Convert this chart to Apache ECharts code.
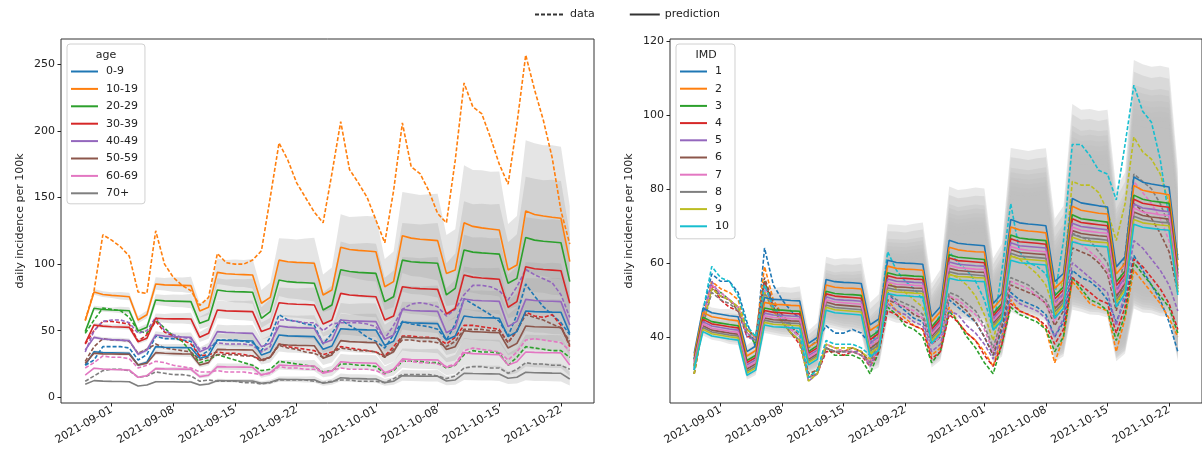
<!DOCTYPE html>
<html><head><meta charset="utf-8">
<script src="https://cdn.jsdelivr.net/npm/echarts@6/dist/echarts.min.js"></script>
<style>html,body{margin:0;padding:0;background:#fff}#c{width:1202px;height:464px}</style>
</head><body><div id="c"></div>
<script>
// day index 0 = 2021-08-29
const xTickDays = [3, 10, 17, 24, 33, 40, 47, 54];
const xTickLabels = ['2021-09-01','2021-09-08','2021-09-15','2021-09-22','2021-10-01','2021-10-08','2021-10-15','2021-10-22'];
const leftYTicks = [0, 50, 100, 150, 200, 250];
const rightYTicks = [40, 60, 80, 100, 120];
const ageGroups = ['0-9','10-19','20-29','30-39','40-49','50-59','60-69','70+'];
const imdGroups = ['1','2','3','4','5','6','7','8','9','10'];
const palette = ['#1f77b4','#ff7f0e','#2ca02c','#d62728','#9467bd','#8c564b','#e377c2','#7f7f7f','#bcbd22','#17becf'];

// relative width of the prediction intervals (upper / lower factor per day)
const bandUpperFactor = [1.02, 1.03,1.03,1.03,1.04,1.04,1.05,1.05, 1.06,1.06,1.07,1.07,1.08,1.09,1.10, 1.11,1.11,1.12,1.12,1.13,1.14,1.15, 1.16,1.17,1.17,1.18,1.19,1.20,1.21, 1.22,1.22,1.23,1.24,1.24,1.25,1.26, 1.27,1.28,1.28,1.29,1.30,1.31,1.32, 1.33,1.33,1.34,1.34,1.35,1.36,1.37, 1.38,1.39,1.39,1.40,1.40,1.41];
const bandLowerFactor = [0.983, 0.975,0.975,0.975,0.966,0.966,0.958,0.958, 0.949,0.949,0.94,0.94,0.932,0.924,0.915, 0.907,0.907,0.898,0.898,0.89,0.881,0.873, 0.864,0.856,0.856,0.847,0.839,0.83,0.822, 0.813,0.813,0.805,0.796,0.796,0.788,0.779, 0.77,0.762,0.762,0.754,0.745,0.737,0.728, 0.72,0.72,0.711,0.711,0.703,0.694,0.686, 0.677,0.669,0.669,0.66,0.66,0.652];

// ---- left panel: age, predictions ----
const predAge09 = [24.2, 34.2,33.6,33.4,33.2,33.0,24.2,26.3, 38.0,37.6,37.4,37.3,37.2,29.3,31.2, 43.0,42.6,42.5,42.4,42.3,31.8,34.2, 46.8,46.1,45.9,45.7,45.5,36.0,38.5, 51.5,51.0,50.8,50.6,50.5,39.0,42.0, 56.5,55.9,55.7,55.5,55.3,43.0,46.0, 61.0,60.1,59.8,59.6,59.3,45.5,49.3, 64.8,64.3,64.1,63.9,63.8,48.0];
const predAge1019 = [57.5, 79.0,77.2,76.5,76.0,75.5,58.0,62.0, 85.0,84.4,84.2,84.0,83.8,64.8,67.6, 93.8,92.8,92.4,92.1,91.8,70.6,75.0, 103.0,101.8,101.3,101.0,100.6,76.8,80.5, 112.6,111.0,110.3,109.8,109.3,83.0,86.8, 121.3,119.5,118.7,118.2,117.6,93.0,95.6, 131.0,128.3,127.2,126.4,125.6,95.6,99.3, 139.9,137.2,136.1,135.2,134.4,101.8];
const predAge2029 = [49.3, 66.8,65.9,65.5,65.3,65.0,49.8,52.5, 73.0,72.4,72.2,72.0,71.8,55.5,58.0, 80.5,79.6,79.3,79.1,78.8,59.3,64.3, 88.0,86.8,86.3,86.0,85.6,65.5,69.3, 95.8,94.4,93.8,93.4,93.0,71.8,75.5, 103.0,101.8,101.3,101.0,100.6,76.8,81.8, 110.6,109.0,108.4,108.0,107.5,85.6,89.3, 120.0,118.0,117.2,116.6,116.0,86.8];
const predAge3039 = [40.5, 54.3,53.4,53.0,52.8,52.5,41.7,44.3, 59.3,59.0,58.9,58.9,58.8,45.0,48.0, 65.5,64.9,64.7,64.5,64.3,49.3,51.8, 71.0,70.2,69.8,69.6,69.3,55.0,58.0, 78.0,76.8,76.3,75.9,75.5,58.0,61.0, 83.0,82.0,81.6,81.3,81.0,62.5,66.8, 91.8,90.2,89.6,89.1,88.6,67.6,71.8, 98.0,96.5,95.9,95.5,95.0,70.6];
const predAge4049 = [35.5, 45.0,43.8,43.3,42.9,42.5,32.3,35.5, 46.8,45.9,45.5,45.3,45.0,34.2,37.2, 49.3,48.7,48.4,48.2,48.0,38.0,40.5, 53.5,52.7,52.3,52.1,51.8,40.5,43.0, 58.0,57.4,57.2,57.0,56.8,43.5,46.8, 66.0,65.2,64.9,64.7,64.5,48.5,52.0, 73.8,72.9,72.5,72.3,72.0,53.0,57.0, 73.5,72.7,72.3,72.1,71.8,54.3];
const predAge5059 = [25.5, 33.0,32.6,32.5,32.4,32.3,24.2,25.5, 33.5,33.0,32.8,32.6,32.5,24.2,26.0, 36.0,35.8,35.7,35.6,35.5,28.0,30.0, 39.8,39.2,39.0,38.9,38.7,29.3,31.8, 42.5,41.8,41.5,41.2,41.0,30.5,34.2, 45.5,44.9,44.7,44.5,44.3,35.8,38.0, 50.0,49.3,49.0,48.7,48.5,37.0,40.5, 53.5,53.0,52.8,52.6,52.5,39.3];
const predAge6069 = [16.7, 21.8,21.2,20.9,20.7,20.5,15.0,16.2, 21.5,21.3,21.2,21.1,21.0,15.5,16.5, 23.0,22.8,22.7,22.6,22.5,16.7,18.5, 24.2,23.9,23.7,23.6,23.5,18.0,19.5, 26.7,26.1,25.9,25.7,25.5,18.5,21.0, 28.8,28.4,28.2,28.1,28.0,22.5,24.2, 33.5,32.8,32.5,32.2,32.0,24.2,26.7, 34.0,33.7,33.5,33.4,33.3,24.2];
const predAge70 = [9.7, 12.5,12.1,11.9,11.8,11.7,8.5,9.2, 11.7,11.6,11.6,11.5,11.5,9.2,10.0, 12.5,12.4,12.3,12.2,12.2,10.5,11.2, 13.5,13.4,13.3,13.2,13.2,10.5,11.5, 14.7,14.2,14.0,13.8,13.7,11.0,12.0, 16.2,16.0,15.9,15.8,15.8,12.2,13.0, 18.0,17.8,17.7,17.6,17.5,14.3,15.0, 18.8,18.4,18.3,18.1,18.0,13.7];

// ---- left panel: age, observed data ----
const dataAge09 = [24,28,38,38,38,37,28, 32,46,44,44,43,42,31, 35,43,43,43,42,41,35, 45,62,58,57,55,54,40, 48,58,54,50,45,42,37, 47,57,55,54,53,51,43, 55,74,70,66,62,57,46, 62,85,76,68,62,56,47];
const dataAge1019 = [58,80,122,118,113,106,79, 78,125,100,90,84,80,69, 75,108,101,100,100,103,110, 150,191,178,161,150,139,131, 168,207,171,161,150,133,116, 155,206,173,168,155,138,131, 178,236,218,213,195,175,160, 205,257,231,208,180,140,115];
const dataAge2029 = [48,58,67,66,65,60,50, 48,58,52,46,42,34,26, 28,32,30,28,26,24,20, 21,27,26,25,24,23,19, 20,25,25,24,24,23,18, 20,27,27,27,26,26,22, 24,32,35,34,34,33,24, 30,38,37,36,35,35,30];
const dataAge3039 = [40,50,57,57,56,55,42, 47,57,49,46,43,40,31, 32,34,33,33,32,31,28, 30,40,38,37,36,35,32, 34,38,37,36,35,34,31, 38,46,46,45,45,44,40, 45,54,54,53,52,51,41, 50,64,61,60,62,54,38];
const dataAge4049 = [34,50,57,58,58,56,48, 50,60,50,47,45,44,36, 38,41,40,40,40,39,34, 38,58,58,57,56,56,50, 55,56,56,56,55,53,44, 54,66,70,71,70,68,61, 66,77,84,84,83,80,73, 83,96,92,89,86,77,60];
const dataAge5059 = [27,38,44,43,43,42,33, 36,40,37,36,35,34,28, 30,32,32,32,31,31,27, 30,39,37,36,34,33,30, 33,37,36,35,35,34,30, 36,43,43,42,42,41,38, 42,51,51,51,50,50,41, 50,62,60,58,55,52,42];
const dataAge6069 = [22,26,31,30,30,29,22, 24,27,26,24,23,22,19, 19,20,19,19,19,18,17, 18,23,22,22,21,21,19, 20,22,21,21,21,20,17, 21,27,27,26,26,25,23, 25,35,37,36,35,34,28, 34,43,44,43,42,41,35];
const dataAge70 = [12,16,20,21,21,20,15, 16,19,18,17,17,16,12, 13,12,12,12,11,11,10, 11,13,13,13,13,12,11, 12,13,13,12,12,12,11, 14,17,17,17,17,16,14, 16,22,23,23,22,22,18, 21,26,25,25,24,24,21];

// ---- right panel: IMD, predictions ----
const predImd1 = [35.5, 47.7,46.5,46.1,45.7,45.4,36.0,37.5, 50.6,50.1,50.0,49.8,49.7,38.2,39.8, 55.5,54.9,54.7,54.6,54.4,43.2,44.8, 60.7,60.1,59.9,59.8,59.6,45.4,48.1, 66.1,65.3,65.0,64.8,64.6,49.0,51.7, 71.7,70.8,70.5,70.3,70.0,54.9,57.1, 77.4,76.2,75.8,75.4,75.1,58.9,61.6, 83.2,81.8,81.3,80.9,80.5,60.7];
const predImd2 = [34.8, 46.6,45.4,45.0,44.6,44.3,34.8,36.3, 49.3,48.8,48.7,48.5,48.4,37.2,38.7, 54.0,53.4,53.2,53.1,52.9,41.7,43.3, 59.1,58.5,58.3,58.2,58.0,44.1,46.8, 64.2,63.5,63.2,63.0,62.9,47.7,50.4, 69.7,68.9,68.6,68.4,68.1,53.1,55.4, 75.3,74.2,73.8,73.4,73.2,57.0,59.8, 80.9,79.6,79.1,78.8,78.4,59.0];
const predImd3 = [34.0, 45.3,44.1,43.7,43.3,43.0,33.6,35.0, 47.8,47.3,47.2,47.0,46.9,36.0,37.6, 52.3,51.7,51.5,51.4,51.2,39.9,41.6, 57.3,56.7,56.6,56.4,56.3,42.7,45.4, 62.2,61.5,61.3,61.1,60.9,46.3,49.0, 67.5,66.7,66.4,66.2,66.0,51.1,53.5, 73.0,71.9,71.6,71.3,71.0,54.8,57.8, 78.3,77.2,76.7,76.4,76.1,57.1];
const predImd4 = [33.6, 44.7,43.5,43.1,42.7,42.4,33.0,34.4, 47.1,46.6,46.5,46.3,46.2,35.5,37.0, 51.6,51.0,50.8,50.6,50.4,39.2,40.9, 56.5,55.9,55.8,55.6,55.5,42.0,44.7, 61.3,60.6,60.4,60.2,60.0,45.6,48.3, 66.5,65.7,65.5,65.3,65.0,50.2,52.7, 71.9,70.9,70.6,70.3,70.0,53.8,56.9, 77.2,76.1,75.7,75.3,75.0,56.3];
const predImd5 = [33.2, 44.1,42.9,42.5,42.1,41.8,32.4,33.8, 46.4,45.9,45.8,45.6,45.5,34.9,36.4, 50.8,50.1,49.9,49.8,49.6,38.3,40.0, 55.6,55.0,54.9,54.7,54.6,41.3,44.0, 60.2,59.6,59.4,59.2,59.1,44.9,47.6, 65.4,64.6,64.4,64.2,64.0,49.3,51.7, 70.7,69.8,69.5,69.2,68.9,52.7,56.0, 75.9,74.8,74.5,74.1,73.8,55.3];
const predImd6 = [32.5, 43.0,41.8,41.4,41.0,40.7,31.3,32.7, 45.1,44.6,44.5,44.3,44.2,33.9,35.4, 49.4,48.7,48.5,48.3,48.1,36.8,38.6, 54.0,53.5,53.4,53.2,53.1,40.1,42.8, 58.5,57.9,57.7,57.5,57.4,43.7,46.4, 63.6,62.8,62.6,62.4,62.2,47.6,50.1, 68.7,67.9,67.6,67.3,67.1,50.9,54.3, 73.7,72.8,72.4,72.1,71.8,53.7];
const predImd7 = [32.9, 43.5,42.3,41.9,41.5,41.2,31.8,33.2, 45.7,45.2,45.1,44.9,44.8,34.4,35.9, 50.0,49.4,49.2,49.0,48.8,37.5,39.3, 54.8,54.2,54.1,53.9,53.8,40.6,43.3, 59.3,58.7,58.5,58.3,58.2,44.2,46.9, 64.4,63.7,63.4,63.2,63.0,48.4,50.9, 69.7,68.8,68.5,68.2,68.0,51.8,55.1, 74.8,73.7,73.4,73.0,72.8,54.5];
const predImd8 = [32.2, 42.5,41.3,40.9,40.5,40.2,30.7,32.1, 44.5,44.0,43.9,43.7,43.6,33.4,34.9, 48.6,47.9,47.7,47.5,47.3,36.1,37.8, 53.2,52.7,52.6,52.4,52.3,39.4,42.1, 57.6,57.0,56.9,56.7,56.5,43.0,45.7, 62.6,61.8,61.6,61.4,61.2,46.7,49.3, 67.7,66.9,66.6,66.4,66.1,49.9,53.4, 72.6,71.7,71.3,71.0,70.8,52.9];
const predImd9 = [31.9, 42.0,40.8,40.4,40.0,39.7,30.2,31.6, 43.9,43.4,43.3,43.1,43.0,33.0,34.5, 48.0,47.3,47.1,46.9,46.7,35.5,37.2, 52.6,52.1,52.0,51.8,51.7,38.9,41.6, 56.8,56.3,56.2,56.0,55.9,42.5,45.2, 61.8,61.1,60.9,60.7,60.5,46.0,48.6, 66.9,66.1,65.8,65.6,65.4,49.2,52.7, 71.7,70.8,70.5,70.2,70.0,52.2];
const predImd10 = [31.5, 41.4,40.2,39.8,39.4,39.1,29.6,31.0, 43.2,42.7,42.6,42.4,42.3,32.4,33.9, 47.2,46.5,46.3,46.1,45.9,34.6,36.4, 51.7,51.2,51.1,50.9,50.8,38.2,40.9, 55.8,55.3,55.2,55.0,54.9,41.8,44.5, 60.7,60.0,59.8,59.6,59.4,45.0,47.7, 65.7,65.0,64.7,64.5,64.3,48.1,51.7, 70.4,69.6,69.3,69.0,68.8,51.3];

// ---- right panel: IMD, observed data ----
const dataImd1 = [34,47,57,55,55,52,44, 37,64,54,50,47,45,37, 39,43,41,41,42,41,38, 42,52,49,47,45,44,38, 40,50,48,46,44,40,35, 42,52,50,49,48,46,40, 44,58,56,55,53,50,44, 50,62,58,54,50,44,36];
const dataImd2 = [32,45,55,53,52,50,42, 40,59,50,46,43,40,30, 31,38,37,36,37,36,33, 37,50,47,45,43,42,35, 37,48,44,41,39,36,32, 40,50,47,46,45,42,33, 40,55,52,49,48,47,36, 45,58,55,52,49,45,40];
const dataImd3 = [30,44,53,52,50,48,41, 38,55,48,44,41,39,29, 31,37,35,35,35,34,30, 36,48,46,43,42,40,33, 36,47,44,40,37,33,30, 38,48,46,45,44,42,36, 40,56,53,50,49,47,39, 46,60,57,54,51,48,41];
const dataImd4 = [30,43,54,50,48,47,40, 40,55,48,44,41,38,29, 30,36,36,35,36,35,32, 36,47,46,44,43,42,34, 36,46,44,41,39,35,32, 38,49,47,46,45,43,38, 42,56,54,52,50,49,41, 48,61,59,56,53,49,42];
const dataImd5 = [31,45,55,51,50,48,40, 39,54,48,45,42,40,28, 30,37,36,36,36,36,32, 37,49,47,46,44,43,36, 38,47,46,43,41,38,34, 40,51,49,48,47,45,40, 45,60,58,56,54,52,43, 52,66,64,61,58,54,47];
const dataImd6 = [32,44,53,51,50,47,42, 40,56,49,46,43,40,30, 31,37,36,36,37,36,33, 38,50,49,48,46,45,38, 40,51,49,47,44,40,35, 43,54,53,52,51,49,43, 47,64,63,62,60,57,47, 56,76,74,72,68,63,52];
const dataImd7 = [32,44,54,52,50,48,41, 40,53,47,45,42,40,29, 30,38,37,36,36,35,33, 38,51,49,48,47,45,38, 40,51,50,48,46,42,36, 45,55,54,53,51,49,44, 50,66,65,63,61,58,49, 60,82,79,76,72,66,56];
const dataImd8 = [31,43,52,50,49,47,41, 39,52,47,44,41,39,29, 30,37,36,36,36,35,33, 39,52,50,49,48,46,39, 41,52,51,49,47,43,37, 45,56,55,54,52,50,45, 52,68,67,66,63,60,50, 62,84,82,80,76,70,58];
const dataImd9 = [30,43,53,51,50,48,42, 40,52,47,44,41,39,28, 30,38,37,37,37,36,34, 41,55,53,52,50,48,41, 44,57,56,54,51,46,39, 49,62,61,59,57,54,47, 56,82,81,81,79,74,66, 76,94,90,88,84,76,62];
const dataImd10 = [31,47,59,56,55,51,43, 40,54,48,45,43,41,29, 31,39,38,38,38,37,35, 44,63,58,55,53,50,42, 46,63,60,58,55,50,42, 58,76,63,60,59,57,51, 66,92,92,89,85,84,77, 92,108,101,98,88,72,58];

const agePred = [predAge09, predAge1019, predAge2029, predAge3039, predAge4049, predAge5059, predAge6069, predAge70];
const ageData = [dataAge09, dataAge1019, dataAge2029, dataAge3039, dataAge4049, dataAge5059, dataAge6069, dataAge70];
const imdPred = [predImd1, predImd2, predImd3, predImd4, predImd5, predImd6, predImd7, predImd8, predImd9, predImd10];
const imdData = [dataImd1, dataImd2, dataImd3, dataImd4, dataImd5, dataImd6, dataImd7, dataImd8, dataImd9, dataImd10];

const FONT = 'DejaVu Sans';
const TXT = '#222';
const LW = 1.6;
const DASH = [4, 2];

function pts(arr) { return arr.map((v, i) => [i, v]); }

// prediction interval drawn as one polygon through the axis scales
function bandSeries(pred, ax, idx, fill) {
  const band = pred.map((v, i) => [i, v * bandLowerFactor[i], v * bandUpperFactor[i]]);
  return {
    type: 'custom', name: 'band-' + ax + '-' + idx, xAxisIndex: ax, yAxisIndex: ax,
    silent: true, z: 1, clip: true,
    data: band, encode: { x: 0, y: [1, 2] },
    renderItem: function (params, api) {
      if (params.dataIndex !== 0) return null;
      const poly = [];
      for (let i = 0; i < band.length; i++) poly.push(api.coord([band[i][0], band[i][2]]));
      for (let i = band.length - 1; i >= 0; i--) poly.push(api.coord([band[i][0], band[i][1]]));
      return { type: 'polygon', shape: { points: poly }, style: { fill: fill, stroke: null } };
    }
  };
}

const series = [];
agePred.forEach((p, k) => series.push(bandSeries(p, 0, k, 'rgba(159,159,159,0.27)')));
imdPred.forEach((p, k) => series.push(bandSeries(p, 1, k, 'rgba(192,192,192,0.36)')));
ageData.forEach((d, k) => series.push({ type: 'line', name: 'data ' + ageGroups[k], xAxisIndex: 0, yAxisIndex: 0, data: pts(d), symbol: 'none', z: 2, silent: true, lineStyle: { color: palette[k], width: LW, type: DASH } }));
imdData.forEach((d, k) => series.push({ type: 'line', name: 'data IMD ' + imdGroups[k], xAxisIndex: 1, yAxisIndex: 1, data: pts(d), symbol: 'none', z: 2, silent: true, lineStyle: { color: palette[k], width: LW, type: DASH } }));
agePred.forEach((p, k) => series.push({ type: 'line', name: ageGroups[k], xAxisIndex: 0, yAxisIndex: 0, data: pts(p), symbol: 'none', z: 3, silent: true, color: palette[k], lineStyle: { color: palette[k], width: LW } }));
imdPred.forEach((p, k) => series.push({ type: 'line', name: imdGroups[k], xAxisIndex: 1, yAxisIndex: 1, data: pts(p), symbol: 'none', z: 3, silent: true, color: palette[k], lineStyle: { color: palette[k], width: LW } }));
series.push({ type: 'line', name: 'data', xAxisIndex: 0, yAxisIndex: 0, data: [], symbol: 'none', color: '#333', lineStyle: { color: '#333', width: LW, type: DASH } });
series.push({ type: 'line', name: 'prediction', xAxisIndex: 0, yAxisIndex: 0, data: [], symbol: 'none', color: '#333', lineStyle: { color: '#333', width: LW } });

function xAxis(gi) {
  return {
    type: 'value', gridIndex: gi, min: -2.75, max: 57.75,
    axisLine: { show: false, onZero: false },
    splitLine: { show: false },
    axisTick: { show: true, length: 3.5, customValues: xTickDays, lineStyle: { color: TXT, width: 1 } },
    axisLabel: { customValues: xTickDays, rotate: 30, margin: 6, fontSize: 11, color: TXT, fontFamily: FONT,
      formatter: v => xTickLabels[xTickDays.indexOf(Math.round(v))] || '' }
  };
}
function yAxis(gi, min, max, ticks) {
  return {
    type: 'value', gridIndex: gi, min: min, max: max,
    name: 'daily incidence per 100k', nameLocation: 'middle', nameGap: 35, nameRotate: 90,
    nameTextStyle: { fontSize: 11, color: TXT, fontFamily: FONT },
    axisLine: { show: false, onZero: false },
    splitLine: { show: false },
    axisTick: { show: true, length: 3.5, customValues: ticks, lineStyle: { color: TXT, width: 1 } },
    axisLabel: { customValues: ticks, margin: 6, fontSize: 11, color: TXT, fontFamily: FONT }
  };
}

const legendBox = { orient: 'vertical', itemWidth: 27, itemHeight: 12, borderColor: '#d0d0d0', borderWidth: 1, borderRadius: 3,
  backgroundColor: 'rgba(255,255,255,0.8)', selectedMode: false, itemStyle: { opacity: 0 },
  textStyle: { fontSize: 11, color: TXT, fontFamily: FONT, padding: [0, 0, 0, 3] } };

const option = {
  animation: false,
  backgroundColor: '#fff',
  textStyle: { fontFamily: FONT },
  grid: [
    { left: 61, top: 39, width: 533, height: 364, show: true, borderColor: '#333', borderWidth: 1, backgroundColor: 'transparent' },
    { left: 670, top: 39, width: 534, height: 364, show: true, borderColor: '#333', borderWidth: 1, backgroundColor: 'transparent' }
  ],
  xAxis: [xAxis(0), xAxis(1)],
  yAxis: [yAxis(0, -4.3, 269, leftYTicks), yAxis(1, 22.1, 120.5, rightYTicks)],
  legend: [
    { data: ['data', 'prediction'], left: 534, top: 9, itemWidth: 30, itemHeight: 12, itemGap: 34, padding: 0, selectedMode: false,
      itemStyle: { opacity: 0 }, textStyle: { fontSize: 11, color: TXT, fontFamily: FONT } },
    Object.assign({}, legendBox, { data: ageGroups, left: 67, top: 44, padding: [22, 7, 5, 3], itemGap: 6.4 }),
    Object.assign({}, legendBox, { data: imdGroups, left: 676, top: 44, padding: [22, 6, 7, 3], itemGap: 6.2 })
  ],
  graphic: [
    { type: 'text', x: 106, y: 55, style: { text: 'age', fill: TXT, font: '11px "DejaVu Sans"', textAlign: 'center', textVerticalAlign: 'middle' }, z: 100 },
    { type: 'text', x: 706, y: 55, style: { text: 'IMD', fill: TXT, font: '11px "DejaVu Sans"', textAlign: 'center', textVerticalAlign: 'middle' }, z: 100 }
  ],
  series: series
};

const chart = echarts.init(document.getElementById('c'), null, { renderer: 'canvas', width: 1202, height: 464 });
chart.setOption(option);
</script>
</body></html>
